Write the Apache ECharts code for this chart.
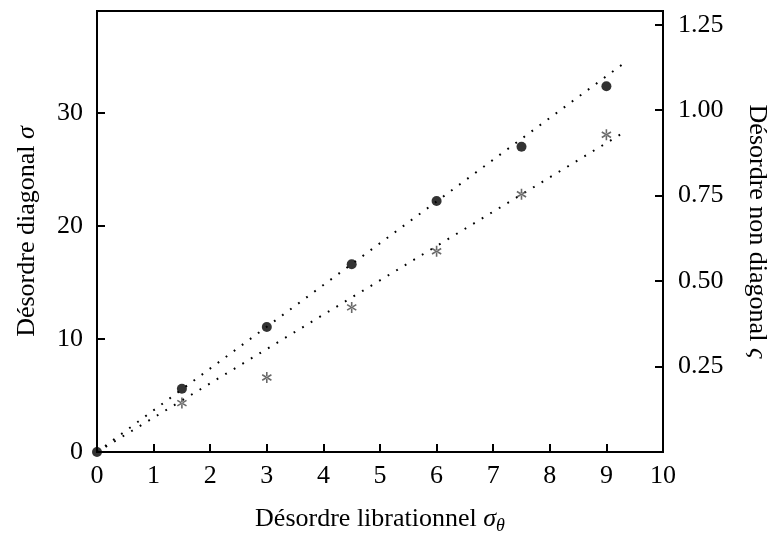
<!DOCTYPE html>
<html><head><meta charset="utf-8">
<script src="https://cdn.jsdelivr.net/npm/echarts@6/dist/echarts.min.js"></script>
<style>html,body{margin:0;padding:0;background:#fff}#c{width:779px;height:534px}</style>
</head><body><div id="c"></div>
<script>
// ---- data ----
const sigmaTheta   = [0, 1.5, 3, 4.5, 6, 7.5, 9];          // x of the dots
const sigmaDiag    = [0, 5.6, 11.05, 16.6, 22.2, 27.0, 32.35]; // left axis (dots)
const starTheta    = [1.5, 3, 4.5, 6, 7.5, 9];              // x of the stars
const sigmaOffDiag = [0.143, 0.218, 0.423, 0.587, 0.754, 0.928]; // right axis (stars)
const fitDiagX = [0, 9.37];  const fitDiagY = [0, 34.6];    // dotted fit, left axis
const fitOffX  = [0, 9.36];  const fitOffY  = [0, 0.94];    // dotted fit, right axis
const xTickLabels     = ['0','1','2','3','4','5','6','7','8','9','10'];
const leftTickLabels  = ['0','10','20','30'];
const rightTickLabels = ['0.25','0.50','0.75','1.00','1.25'];

const FONT = '"Liberation Serif", "Times New Roman", serif';
const FS = 26;
const star = 'path://M-0.15,-1L0.15,-1L0.15,1L-0.15,1Z M0.791,0.63L0.941,0.37L-0.791,-0.63L-0.941,-0.37Z M-0.941,0.37L-0.791,0.63L0.941,-0.37L0.791,-0.63Z';

const zip = (a, b) => a.map((v, i) => [v, b[i]]);
const lbl = {fontFamily: FONT, fontSize: FS, color: '#000'};
const rich = {
  r: {fontFamily: FONT, fontSize: FS, color: '#000', lineHeight: 32, verticalAlign: 'middle'},
  i: {fontFamily: FONT, fontSize: FS, fontStyle: 'italic', color: '#000', lineHeight: 32, verticalAlign: 'middle'},
  s: {fontFamily: FONT, fontSize: 18, fontStyle: 'italic', color: '#000', lineHeight: 18, verticalAlign: 'bottom'}
};
const axLine = {show: true, onZero: false, lineStyle: {color: '#000', width: 2}};
const tick = {show: true, inside: true, length: 8, lineStyle: {color: '#000', width: 2}};

const chart = echarts.init(document.getElementById('c'), null, {renderer: 'canvas'});
chart.setOption({
  animation: false,
  backgroundColor: '#fff',
  grid: {left: 97, right: 116, top: 11, bottom: 82, show: true, borderColor: '#000', borderWidth: 2,
         containLabel: false, outerBoundsMode: 'none'},
  xAxis: {
    type: 'value', min: 0, max: 10, interval: 1,
    axisLine: axLine, axisTick: tick, splitLine: {show: false},
    axisLabel: Object.assign({margin: 11, formatter: v => xTickLabels[Math.round(v)] ?? ''}, lbl),
    name: '{r|Désordre librationnel }{i|σ}{s|θ}', nameLocation: 'middle', nameGap: 51,
    nameTextStyle: {rich: rich}
  },
  yAxis: [{
    type: 'value', min: 0, max: 39, interval: 10, position: 'left',
    axisLine: axLine, axisTick: tick, splitLine: {show: false},
    axisLabel: Object.assign({margin: 14, showMaxLabel: false,
      formatter: v => leftTickLabels.includes(String(v)) ? String(v) : ''}, lbl),
    name: '{r|Désordre diagonal }{i|σ}', nameLocation: 'middle', nameGap: 54, nameRotate: 90,
    nameTextStyle: {rich: rich}
  }, {
    type: 'value', min: 0, max: 1.29, interval: 0.25, position: 'right',
    axisLine: axLine, axisTick: tick, splitLine: {show: false},
    axisLabel: Object.assign({margin: 15, showMaxLabel: false,
      formatter: v => { const s = v.toFixed(2); return rightTickLabels.includes(s) ? s : ''; }}, lbl),
    name: '{r|Désordre non diagonal }{i|ς}', nameLocation: 'middle', nameGap: 78, nameRotate: -90,
    nameTextStyle: {rich: rich}
  }],
  series: [
    {type: 'line', yAxisIndex: 0, data: zip(fitDiagX, fitDiagY), symbol: 'none', silent: true,
     lineStyle: {color: '#000', width: 2, type: [1.8, 8.2], cap: 'butt'}, z: 2},
    {type: 'line', yAxisIndex: 1, data: zip(fitOffX, fitOffY), symbol: 'none', silent: true,
     lineStyle: {color: '#000', width: 2, type: [1.8, 8.2], cap: 'butt'}, z: 2},
    {type: 'scatter', yAxisIndex: 1, data: zip(starTheta, sigmaOffDiag), symbol: star,
     symbolSize: [10, 11], itemStyle: {color: '#444'}, z: 3},
    {type: 'scatter', yAxisIndex: 0, data: zip(sigmaTheta, sigmaDiag), symbol: 'circle',
     symbolSize: 10, itemStyle: {color: '#000'}, z: 4}
  ]
});
</script></body></html>
